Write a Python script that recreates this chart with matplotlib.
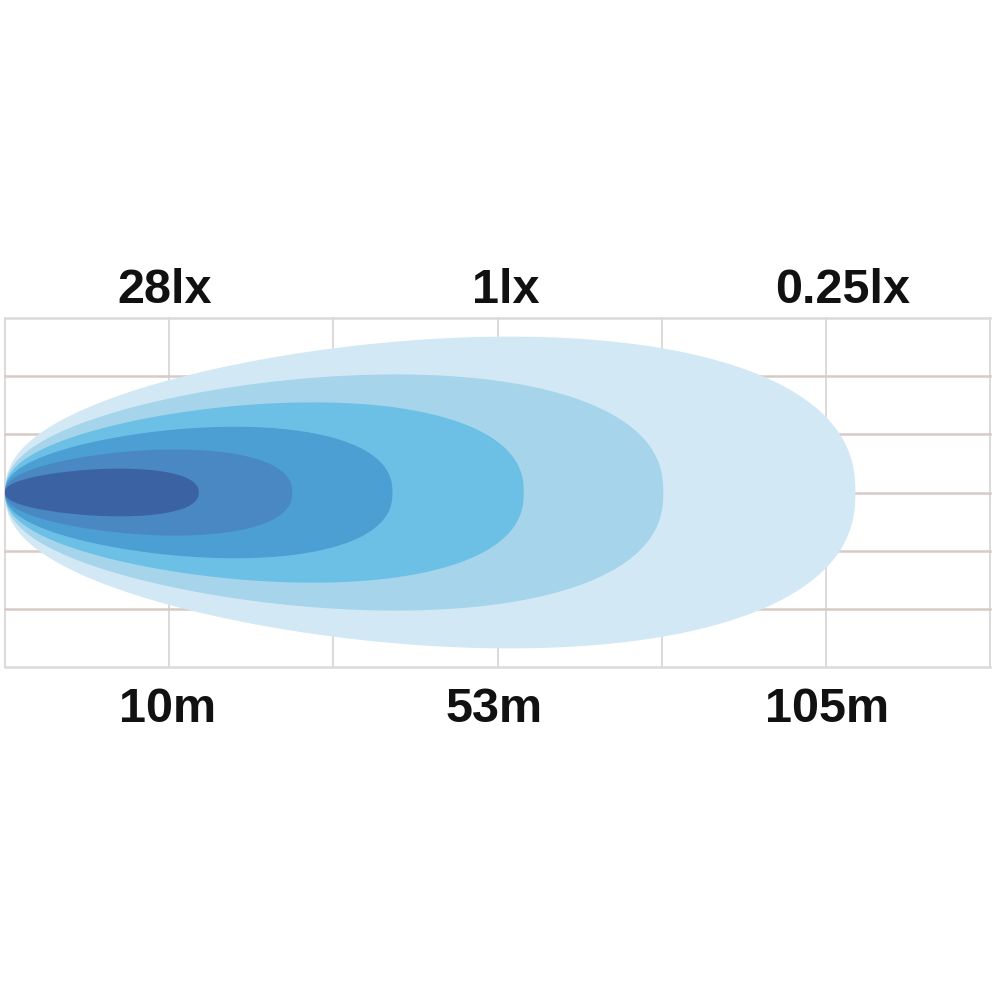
import numpy as np
import matplotlib.pyplot as plt

# beam zones, outermost first (grid units: x = reach from lamp, y = half width)
reach = [5.18, 4.01, 3.16, 2.36, 1.75, 1.18]
half_width = [2.68, 2.03, 1.55, 1.13, 0.74, 0.41]
zone_colors = ['#d3e8f5', '#a6d5eb', '#6cc0e5', '#4b9fd2', '#4a88c4', '#3b62a3']

lux_labels = ['28lx', '1lx', '0.25lx']
lux_x = [0.97, 3.05, 5.10]
dist_labels = ['10m', '53m', '105m']
dist_x = [0.99, 2.98, 5.01]

fig = plt.figure(figsize=(10, 10), dpi=100)
ax = fig.add_axes([0.005, 0.333, 0.985, 0.349])
ax.set_xlim(0, 6)
ax.set_ylim(-3, 3)
ax.axis('off')

# grid
for gx in range(7):
    ax.plot([gx, gx], [-3, 3], color='#dcdad8', lw=1.4, zorder=1, clip_on=False)
for gy in range(-3, 4):
    c = '#dcdad8' if abs(gy) == 3 else '#d6cbc6'
    ax.plot([0, 6], [gy, gy], color=c, lw=1.8, zorder=1, clip_on=False)

# egg shaped beam zones, widest part a bit right of centre
t = np.linspace(0, np.pi, 300)
u = -np.cos(t)
prof = np.sin(t) ** 0.85 * (1 + 0.17 * u)
prof = prof / prof.max()
for L, b, c in zip(reach, half_width, zone_colors):
    xs = L * (1 + u) / 2
    ys = b * prof
    ax.fill(np.concatenate([xs, xs[::-1]]), np.concatenate([ys, -ys[::-1]]),
            color=c, lw=0, zorder=2)

for lab, x in zip(lux_labels, lux_x):
    ax.text(x, 3.26, lab, ha='center', va='baseline', fontsize=35,
            fontweight='bold', family='Liberation Sans', color='#111111', clip_on=False)
for lab, x in zip(dist_labels, dist_x):
    ax.text(x, -3.95, lab, ha='center', va='baseline', fontsize=35,
            fontweight='bold', family='Liberation Sans', color='#111111', clip_on=False)

fig.savefig('out.png', dpi=100, facecolor='white')
